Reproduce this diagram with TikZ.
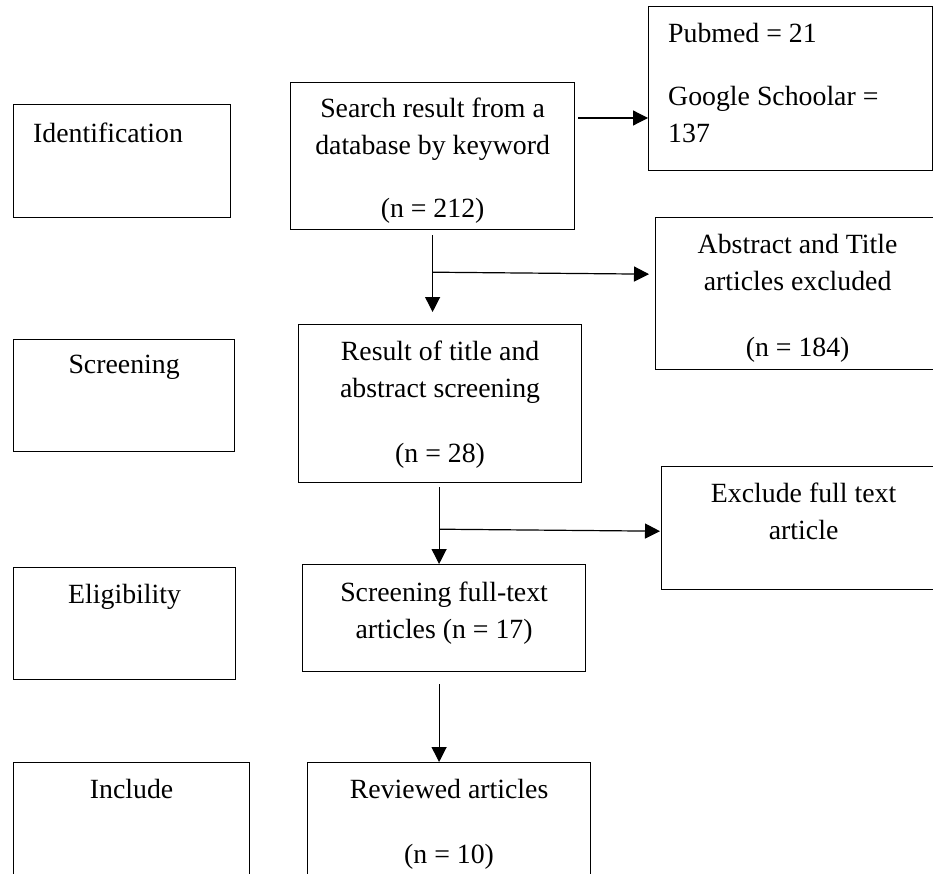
\documentclass[tikz,border=0pt]{standalone}
\usepackage{fontspec}
\setmainfont{Liberation Serif}
\usetikzlibrary{arrows.meta,calc}
\tikzset{
  fig/.style={font=\fontsize{27.8}{37}\selectfont,x=1pt,y=-1pt},
  box/.style={draw,line width=1.2pt,anchor=north west,inner sep=0pt,
              minimum width=284pt},
  stagebox/.style={draw,line width=1.2pt,anchor=north west,inner sep=0pt},
  txt/.style={align=center,inner sep=0pt,anchor=north,yshift=-17pt},
  ltxt/.style={align=left,inner sep=0pt,anchor=north west,xshift=20pt,yshift=-17pt},
  ln/.style={-{Triangle[length=15pt,width=15pt]},line width=1.2pt},
}

\begin{document}
\begin{tikzpicture}[fig]

\useasboundingbox[fill=white] (0,0) rectangle (933,874);
\clip (0,0) rectangle (933,874);

% ------------------------------------------------ stages (left column)
\node[stagebox,minimum width=217pt,minimum height=113pt,
      label={[ltxt,yshift=-2pt]north west:Identification}] (ident) at (13,104) {};
\node[stagebox,minimum width=221pt,minimum height=112pt,
      label={[txt,yshift=1pt]north:Screening}] (screen) at (13,339) {};
\node[stagebox,minimum width=222pt,minimum height=112pt,
      label={[txt]north:Eligibility}] (elig) at (13,567) {};
\node[stagebox,minimum width=236pt,minimum height=120pt,
      label={[txt]north:Include}] (incl) at (13,762) {};

% ------------------------------------------------ main flow
\node[box,minimum height=147pt,
      label={[txt,yshift=1pt]north:{Search result from a\\database by keyword\\[26pt](n = 212)}}]
      (search) at (290,82) {};
\node[box,minimum width=283pt,minimum height=158pt,
      label={[txt]north:{Result of title and\\abstract screening\\[28pt](n = 28)}}]
      (result) at (298,324) {};
\node[box,minimum width=283pt,minimum height=107pt,
      label={[txt,yshift=-1pt]north:{Screening full-text\\articles (n = 17)}}]
      (fulltext) at (302,564) {};
\node[box,minimum width=283pt,minimum height=120pt,
      label={[txt]north:{Reviewed articles\\[28pt](n = 10)}}]
      (review) at (307,762) {};

% ------------------------------------------------ side boxes
\node[box,minimum height=164pt,
      label={[ltxt]north west:{Pubmed = 21\\[26pt]Google Schoolar =\\137}}]
      (pubmed) at (648,6) {};
\node[box,minimum height=152pt,
      label={[txt]north:{Abstract and Title\\articles excluded\\[29pt](n = 184)}}]
      (abstr) at (655,217) {};
\node[box,minimum height=123pt,
      label={[txt]north:{Exclude full text\\article}}]
      (exclude) at (661,466) {};

% ------------------------------------------------ connectors
\coordinate (br1) at ($(search.south)+(0,42)$);
\coordinate (br2) at ($(result.south)+(-1,46)$);

\draw[ln] ($(search.north east)+(3,36)$) -- ($(pubmed.north west)+(0,112)$);
\draw[ln,shorten <=5pt,shorten >=12pt] (search.south) -- (search.south |- result.north);
\draw[ln,shorten >=6pt] (br1) -- ($(abstr.west |- br1)+(0,2)$);
\draw[ln,shorten <=4pt] ($(result.south)+(-1,0)$) -- (br2 |- fulltext.north);
\draw[ln,shorten >=1pt] (br2) -- ($(exclude.west |- br2)+(0,2)$);
\draw[ln,shorten <=12pt] (br2 |- fulltext.south) -- (br2 |- review.north);

\end{tikzpicture}
\end{document}
